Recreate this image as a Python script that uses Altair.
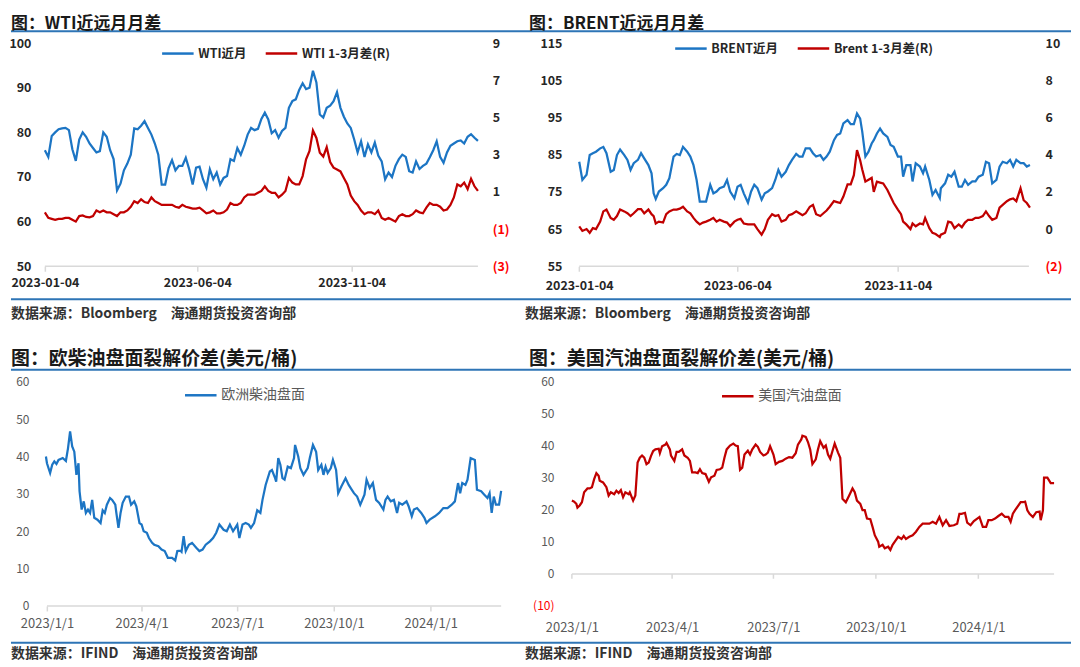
import altair as alt
import pandas as pd

FONT = "Noto Sans CJK SC"
BLUE = "#1C75C4"
RED = "#C00000"
RULE_BLUE = "#2E75B6"
DARK = "#262626"
GRAY = "#595959"
AXIS_GRAY = "#D9D9D9"
NEG_RED = "#FF0000"

# ---------------- data: WTI (evenly spaced observations) ----------------
WTI_START, WTI_END = "2023-01-04", "2024-03-08"
WTI_NEAR = [76, 74.5, 79.2, 80, 80.7, 80.9, 81, 80.5, 76.2, 73.6,
            78.4, 80, 79, 77.5, 76.5, 75.5, 75.8, 80, 79, 76,
            74, 67, 68.5, 71.5, 73, 75, 80.9, 80.7, 81.5, 82.5,
            81, 79.5, 77.5, 75, 68.3, 68.3, 72, 73.8, 71.5, 72.5,
            72.5, 74.3, 71.7, 68.3, 72.1, 72.3, 69.5, 67.6, 71.7, 69.5,
            71, 68.3, 69.8, 70.2, 74, 73.6, 76.5, 75, 77, 79.5,
            81, 80.5, 80.8, 83, 84.4, 82.9, 79.8, 80.5, 78.8, 80.3,
            81, 85.5, 87, 87.4, 89.5, 91, 89.7, 90, 93.8, 91.2,
            84, 83.3, 85.5, 86, 87, 89, 85.5, 83.5, 82, 81,
            78.4, 75.5, 78, 74.5, 77.3, 75.5, 77.7, 74.8, 73.5, 69.5,
            71, 70, 72.5, 74, 75, 74.5, 71.3, 71, 73.5, 71.8,
            72.5, 73, 74.4, 76, 78, 74.5, 73.2, 75.5, 77, 77.5,
            78, 78.2, 77.5, 79, 79.6, 78.8, 78.1]
WTI_SPREAD = [-0.1, -0.4, -0.45, -0.5, -0.45, -0.45, -0.4, -0.4, -0.5, -0.6,
              -0.3, -0.27, -0.35, -0.37, -0.3, 0, -0.1, 0, -0.1, -0.1,
              -0.2, -0.3, -0.1, -0.1, 0, 0.2, 0.5, 0.4, 0.6, 0.45,
              0.4, 0.7, 0.5, 0.4, 0.3, 0.3, 0.3, 0.3, 0.2, 0.15,
              0.3, 0.2, 0.15, 0.1, 0.1, 0.15, 0, -0.15, -0.1, 0,
              -0.15, -0.15, -0.1, 0.05, 0.4, 0.3, 0.3, 0.4, 0.7, 0.85,
              0.85, 0.85, 0.95, 1.05, 1.3, 1.05, 0.95, 0.95, 0.7, 0.85,
              1.05, 1.75, 1.5, 1.4, 1.4, 1.85, 2.75, 3.2, 4.3, 3.9,
              3.1, 2.9, 3.4, 2.6, 2.3, 2.2, 2.1, 1.75, 1.4, 0.8,
              0.5, 0.3, 0, -0.2, -0.1, -0.1, -0.2, 0, -0.4, -0.5,
              -0.4, -0.5, -0.6, -0.3, -0.2, -0.3, -0.3, -0.2, 0, -0.1,
              -0.15, 0.15, 0.4, 0.3, 0.3, 0.2, 0, 0.05, 0.3, 0.7,
              1.4, 1.3, 1.5, 1.15, 1.7, 1.3, 1.05]

# ---------------- data: Brent (days after 2023-01-04) ----------------
BRENT_START = "2023-01-04"
BRENT_DAYS = [0, 3, 7, 10, 13, 16, 20, 23, 26, 30,
              33, 36, 39, 43, 46, 49, 52, 56, 59, 62,
              66, 69, 71, 73, 76, 80, 83, 86, 90, 93,
              96, 99, 103, 106, 109, 112, 115, 118, 121, 125,
              128, 131, 134, 138, 141, 144, 148, 151, 154, 157,
              161, 164, 167, 170, 174, 177, 180, 184, 187, 190,
              193, 197, 200, 203, 207, 210, 213, 216, 220, 223,
              226, 230, 233, 236, 239, 243, 246, 249, 252, 256,
              259, 262, 265, 268, 270, 273, 276, 279, 281, 284,
              287, 290, 294, 297, 300, 304, 307, 309, 312, 316,
              318, 321, 325, 328, 330, 334, 337, 340, 344, 345,
              349, 352, 355, 358, 362, 365, 368, 371, 375, 378,
              381, 385, 388, 391, 394, 398, 401, 404, 408, 411,
              414, 417, 421, 424, 427, 430]
BRENT_NEAR = [83.1, 78.2, 79.6, 84.9, 85.4, 85.8, 86.7, 87.1, 85.4, 80.4,
              80.9, 84.9, 86.4, 84.9, 83.6, 80.9, 82.7, 83.6, 85.4, 84,
              82.2, 80, 74.6, 73.1, 75.1, 76, 76.9, 78.7, 84.5, 85.2,
              84.9, 87.1, 85.8, 84.5, 82.2, 78.2, 72.4, 72.4, 72.4, 76.9,
              74.6, 75.1, 76, 76.4, 78.2, 75.1, 73.3, 76.4, 76.9, 74.6,
              72.1, 75.1, 76.9, 76, 72.9, 74.6, 75.1, 76, 78.2, 80.9,
              79.1, 80.4, 82.2, 83.6, 85.2, 84.5, 84.5, 86.7, 86.7, 85.4,
              84.5, 84.9, 83.6, 84.5, 85.8, 88.9, 90.3, 90.7, 93.4, 94.3,
              93.2, 93.2, 96.1, 94.7, 91.2, 84.5, 85.8, 88, 88.9, 90.7,
              92, 90.7, 89.8, 87.6, 87.1, 84.5, 84.5, 79.1, 82.2, 82.2,
              77.8, 82.7, 81.8, 80, 81.8, 78.2, 74.2, 75.5, 73.3, 76,
              77.3, 79.6, 79.1, 80.4, 76.4, 76.4, 78.2, 76.9, 77.8, 77.8,
              79.1, 79.6, 83.1, 82.7, 77.3, 78.2, 81.8, 83.1, 82.7, 83.6,
              81.8, 83.6, 82.7, 82.7, 81.8, 82.2]
BRENT_SPREAD = [0.14, -0.1, 0, -0.2, 0.05, 0, 0.4, 0.95, 1.05, 0.6,
                0.5, 0.7, 1.05, 0.95, 0.85, 0.7, 0.85, 1.07, 1.07, 0.85,
                1.05, 0.8, 0.7, 0.3, 0.4, 0.35, 0.8, 0.95, 1.05, 1.05,
                1.1, 1.2, 0.95, 0.85, 0.6, 0.4, 0.25, 0.35, 0.4, 0.5,
                0.6, 0.4, 0.5, 0.4, 0.35, 0.15, 0.4, 0.5, 0.55, 0.3,
                0.25, 0.25, 0.25, 0, -0.3, 0, 0.5, 0.8, 0.7, 0.75,
                0.4, 0.5, 0.75, 0.8, 0.95, 0.85, 0.75, 0.85, 1.2, 1.3,
                0.8, 0.7, 0.85, 1.0, 1.2, 1.5, 1.45, 1.4, 1.75, 2.4,
                2.4, 2.9, 4.25, 3.7, 3.2, 2.55, 2.65, 2.75, 2.0, 2.55,
                2.5, 2.45, 2.1, 1.75, 1.4, 1.05, 0.8, 0.4, 0.25, 0,
                0.3, 0.15, 0.3, 0.25, 0.6, 0.05, -0.2, -0.27, -0.43, -0.3,
                -0.2, 0.4, 0.35, 0.05, 0.25, 0.1, 0.35, 0.5, 0.5, 0.6,
                0.6, 0.7, 0.95, 0.7, 0.5, 0.6, 1.15, 1.3, 1.5, 1.6,
                1.65, 1.5, 2.2, 1.55, 1.4, 1.15]

# ---------------- data: cracks (days after 2023-01-01) ----------------
CRACK_START = "2023-01-01"
DIESEL_DAYS = [-1, 0, 3, 5, 7, 9, 11, 15, 18, 20,
               22, 24, 26, 28, 30, 31, 33, 35, 37, 39,
               41, 43, 45, 48, 51, 53, 55, 57, 60, 62,
               65, 66, 68, 70, 72, 75, 78, 80, 83, 85,
               88, 90, 92, 95, 97, 100, 102, 106, 109, 112,
               115, 119, 122, 124, 127, 128, 130, 132, 135, 138,
               142, 145, 148, 151, 155, 158, 161, 164, 168, 171,
               174, 177, 181, 183, 186, 189, 192, 194, 197, 200,
               203, 205, 208, 212, 214, 217, 218, 220, 222, 224,
               226, 229, 232, 235, 236, 239, 241, 244, 248, 250,
               253, 256, 258, 261, 263, 265, 267, 270, 272, 275,
               277, 280, 284, 287, 290, 292, 295, 298, 302, 304,
               307, 310, 313, 316, 320, 322, 324, 327, 330, 333,
               335, 338, 342, 344, 347, 349, 352, 356, 359, 361,
               364, 369, 373, 377, 381, 385, 388, 391, 393, 395,
               398, 400, 403, 407, 409, 413, 416, 419, 421, 423,
               425, 427, 430, 432]
DIESEL_CRACK = [40, 38.2, 35.6, 37.8, 38.7, 38, 39.1, 39.6, 38.8, 42.2,
                46.7, 42.7, 41.3, 35.1, 38.2, 30.7, 25.8, 28, 24.9, 25.8,
                24.9, 28.4, 23.6, 23.1, 22.2, 25.6, 24.9, 27.1, 28.9, 28.4,
                27.1, 24.9, 20.9, 24.9, 27.6, 29.3, 29.3, 27.1, 28, 26.7,
                22.2, 21.8, 20, 19.6, 18.2, 16.9, 16.4, 16, 15.1, 14.7,
                12.9, 12.9, 12.2, 14.7, 14.8, 14.5, 18.7, 14.7, 16.4, 16.9,
                15.6, 14.7, 15.1, 16.4, 17.3, 18.2, 19.6, 21.8, 20.4, 20,
                21.8, 20, 21.8, 18.2, 21.8, 22.2, 21.8, 20.9, 22.2, 25.6,
                24.9, 28.4, 32.4, 36, 36.4, 34.2, 33.3, 39.6, 37.8, 34.2,
                33.8, 37.3, 36.9, 39.6, 43.1, 40, 36.9, 35.1, 36.9, 39.6,
                43.1, 41.3, 36.4, 37.8, 35.1, 37.3, 35.6, 36.9, 39.1, 36.4,
                30.2, 32, 34.2, 32.4, 31.1, 30.2, 29.3, 27.1, 29.8, 33.8,
                31.6, 32.9, 28.4, 27.6, 25.8, 28.4, 29.3, 28, 28.4, 24.9,
                27.6, 27.1, 28, 26.7, 24, 25.8, 26.2, 24.9, 23.6, 22.2,
                23.1, 24, 24.9, 26.2, 26.2, 27.1, 28, 32.9, 30.2, 32.9,
                32.4, 33.8, 39.6, 39.1, 31.1, 30.7, 29.8, 28.9, 30.2, 24.9,
                29.3, 27.1, 27.1, 30.8]
GASOLINE_DAYS = [0, 2, 4, 5, 7, 9, 11, 14, 16, 18,
                 20, 22, 24, 25, 28, 31, 33, 35, 38, 40,
                 42, 44, 46, 48, 51, 52, 55, 57, 59, 61,
                 63, 65, 67, 69, 71, 73, 75, 78, 79, 81,
                 84, 85, 88, 89, 92, 94, 96, 99, 101, 104,
                 106, 108, 111, 113, 115, 117, 120, 123, 125, 128,
                 130, 133, 135, 137, 139, 142, 145, 147, 149, 151,
                 153, 155, 158, 160, 162, 165, 167, 169, 172, 174,
                 176, 178, 181, 183, 186, 189, 192, 195, 198, 201,
                 203, 206, 207, 210, 212, 214, 216, 219, 221, 223,
                 226, 228, 230, 232, 234, 236, 239, 241, 243, 246,
                 249, 252, 254, 256, 259, 261, 263, 265, 268, 270,
                 272, 275, 276, 279, 281, 284, 286, 288, 290, 293,
                 296, 298, 300, 303, 306, 309, 312, 315, 318, 321,
                 324, 327, 330, 333, 336, 339, 343, 346, 348, 350,
                 353, 355, 358, 361, 364, 366, 369, 372, 374, 377,
                 380, 383, 386, 389, 392, 394, 396, 398, 401, 403,
                 405, 407, 409, 411, 414, 417, 420, 421, 423, 424,
                 427, 430, 433]
GASOLINE_CRACK = [22.9, 22.6, 21.9, 20.7, 21.4, 22.4, 25.5, 26.7, 26.7, 27.1,
                  29.6, 31.5, 30.7, 29.1, 28.6, 27.1, 24.5, 25.5, 24.9, 26,
                  25.3, 26.2, 24, 25.5, 24.9, 25.5, 22.9, 24.5, 34.8, 36.3,
                  37, 36.3, 34.3, 34.8, 36.8, 38.4, 38.9, 39.1, 37.7, 39.9,
                  40.4, 40.9, 38.9, 37, 35.3, 38.1, 38.1, 38.9, 37, 36.3,
                  35.3, 31.7, 31.7, 31.5, 32.7, 31.5, 31.2, 28.8, 30.2, 30.7,
                  32.5, 32.7, 33.2, 36.3, 38.9, 40.1, 40.7, 40.1, 39.9, 32.5,
                  33.2, 37.3, 38.5, 37.3, 38.9, 40.4, 39.7, 38.1, 37, 37.3,
                  37.9, 39.9, 37.3, 34.3, 35, 35.3, 36, 36.5, 36.3, 37.7,
                  40.4, 42, 43.2, 42.8, 41.2, 38.9, 34.3, 35.8, 38.9, 41.5,
                  39.4, 40.1, 37.3, 36, 38.4, 40.7, 37.9, 36.3, 23.5, 22.4,
                  24.5, 26.7, 25.5, 22.9, 21.9, 19.9, 19.9, 17.3, 17.1, 14.7,
                  12.1, 10.1, 8.5, 9.1, 8, 8.5, 7.5, 9.1, 10.1, 11.6,
                  10.9, 11.9, 10.9, 11.6, 12.1, 13.2, 14.7, 15.7, 15.7, 15.7,
                  16.3, 15.7, 17.8, 15.2, 16.8, 15, 15.2, 15.7, 18.8, 18.8,
                  19.1, 16, 15.2, 16.5, 17.3, 17.8, 14.7, 14.7, 16.8, 16.8,
                  17.3, 18.1, 18.8, 17.8, 17.8, 16.3, 18.8, 19.9, 21.4, 22.4,
                  22.4, 22.6, 19.9, 18.8, 17.8, 19.3, 19.5, 16.8, 19.9, 30.1,
                  30.1, 28.4, 28.4]

# ---------------- text ----------------
TITLES = ["图：WTI近远月月差", "图：BRENT近远月月差",
          "图：欧柴油盘面裂解价差(美元/桶)", "图：美国汽油盘面裂解价差(美元/桶)"]
SOURCES = ["数据来源：Bloomberg\u3000海通期货投资咨询部",
           "数据来源：Bloomberg\u3000海通期货投资咨询部",
           "数据来源：IFIND\u3000海通期货投资咨询部",
           "数据来源：IFIND\u3000海通期货投资咨询部"]
SERIES = [["WTI近月", "WTI 1-3月差(R)"], ["BRENT近月", "Brent 1-3月差(R)"],
          ["欧洲柴油盘面"], ["美国汽油盘面"]]

# ---------------- layout ----------------
C1X, C2X = 42, 571
R1Y, R2Y = 41, 381
W1, W2 = 458, 484
H1, H2 = 224, 225


def dt(y, m, d):
    return alt.DateTime(year=y, month=m, date=d)


def ts(s):
    return pd.Timestamp(s)


def decorations(i, cx, ry, rule_top, rule_bot, rx0, rx1, title_x, title_y, title_size,
                src_x, src_y, anchor_top=False):
    one = pd.DataFrame({"t": [TITLES[i]]})
    src = pd.DataFrame({"t": [SOURCES[i]]})
    dummy = pd.DataFrame({"k": [0]})
    out = [
        alt.Chart(dummy).mark_rule(color=RULE_BLUE, strokeWidth=2).encode(
            x=alt.value(rx0 - cx), x2=alt.value(rx1 - cx), y=alt.value(rule_top - ry)),
        alt.Chart(dummy).mark_rule(color=RULE_BLUE, strokeWidth=2).encode(
            x=alt.value(rx0 - cx), x2=alt.value(rx1 - cx), y=alt.value(rule_bot - ry)),
        alt.Chart(one).mark_text(align="left", baseline="middle", font=FONT, fontSize=title_size,
                                 fontWeight="bold", color="#1A1A1A").encode(
            text="t:N", x=alt.value(title_x - cx), y=alt.value(title_y - ry)),
        alt.Chart(src).mark_text(align="left", baseline="middle", font=FONT, fontSize=14,
                                 fontWeight="bold", color="#333333").encode(
            text="t:N", x=alt.value(src_x - cx), y=alt.value(src_y - ry)),
    ]
    if anchor_top:
        # invisible frame edge at the top of the page area
        out.append(alt.Chart(dummy).mark_rule(opacity=0, strokeWidth=1).encode(
            x=alt.value(rx0 - cx), x2=alt.value(rx1 - cx), y=alt.value(7.5 - ry)))
    return out


def yaxis(values, orient, size, bold, color, padding, offset=0, neg_red=False):
    kw = dict(values=values, tickCount=len(values) + 2, orient=orient, title=None,
              domain=False, ticks=False, grid=False, labelFont=FONT, labelFontSize=size,
              labelFontWeight="bold" if bold else "normal", labelPadding=padding,
              labelOverlap=False)
    if offset:
        kw["offset"] = offset
    if neg_red:
        kw["labelExpr"] = "datum.value < 0 ? '(' + abs(datum.value) + ')' : datum.label"
        kw["labelColor"] = {"condition": {"test": "datum.value < 0", "value": NEG_RED},
                            "value": color}
    else:
        kw["labelColor"] = color
    return alt.Axis(**kw)


def xaxis(values, fmt, size, bold, color, padding, ticks=True):
    return alt.Axis(values=values, format=fmt, formatType="time", title=None,
                    domain=False, ticks=ticks, tickSize=5 if ticks else 0,
                    tickColor=AXIS_GRAY, tickWidth=1.5, grid=False, labelFont=FONT,
                    labelFontSize=size, labelFontWeight="bold" if bold else "normal",
                    labelColor=color, labelPadding=padding, labelFlush=False,
                    labelOverlap=False, labelAngle=0)


def legend(x, y, size, bold, color, colpad):
    return alt.Legend(title=None, orient="none", legendX=x, legendY=y,
                      direction="horizontal", symbolType="stroke", symbolSize=1000,
                      symbolStrokeWidth=2.5, labelFont=FONT, labelFontSize=size,
                      labelFontWeight="bold" if bold else "normal", labelColor=color,
                      columnPadding=colpad, labelOffset=3, padding=0)


def dual_panel(i, near_df, spread_df, xdomain, ydom_l, yvals_l, ydom_r, yvals_r,
               xvals, axis_span, y_floor, cx, ry, w, h, lpad, roff, xpad,
               leg_x, leg_y, leg_pad, title_x, src_x):
    xs = alt.Scale(domain=xdomain)
    ax = xaxis(xvals, "%Y-%m-%d", 12.5, True, DARK, xpad)
    col = alt.Color("series:N", scale=alt.Scale(domain=SERIES[i], range=[BLUE, RED]),
                    legend=legend(leg_x, leg_y, 12.5, True, DARK, leg_pad))
    ysl = alt.Scale(domain=ydom_l, nice=False, zero=False)
    ysr = alt.Scale(domain=ydom_r, nice=False, zero=False)
    near = alt.Chart(near_df).mark_line(strokeWidth=2.25).encode(
        x=alt.X("date:T", scale=xs, axis=ax),
        y=alt.Y("v:Q", scale=ysl, axis=yaxis(yvals_l, "left", 12.5, True, DARK, lpad)),
        color=col)
    base_df = pd.DataFrame({"s": [ts(axis_span[0])], "e": [ts(axis_span[1])]})
    base = alt.Chart(base_df).mark_rule(color=AXIS_GRAY, strokeWidth=1.5).encode(
        x=alt.X("s:T", scale=xs, axis=ax), x2="e:T",
        y=alt.Y(datum=y_floor, scale=ysl,
                axis=yaxis(yvals_l, "left", 12.5, True, DARK, lpad)))
    spread = alt.Chart(spread_df).mark_line(strokeWidth=2.25).encode(
        x=alt.X("date:T", scale=xs, axis=ax),
        y=alt.Y("v:Q", scale=ysr,
                axis=yaxis(yvals_r, "right", 12.5, True, DARK, 0, offset=roff, neg_red=True)),
        color=col)
    decos = decorations(i, cx, ry, 29, 298, 8 if cx == C1X else 540,
                        540 if cx == C1X else 1072, title_x, 21.5, 17, src_x, 313,
                        anchor_top=True)
    left = alt.layer(near, base, *decos)
    return alt.layer(left, spread).resolve_scale(y="independent").properties(width=w, height=h)


def single_panel(i, df, color, xdomain, ydom, yvals, neg_red, xvals, axis_span,
                 cx, ry, w, h, lpad, xpad, ticks_on_axis, leg_x, leg_y, title_x, src_x):
    xs = alt.Scale(domain=xdomain)
    ax = xaxis(xvals, "%Y/%-m/%-d", 13, False, GRAY, xpad, ticks=ticks_on_axis)
    col = alt.Color("series:N", scale=alt.Scale(domain=SERIES[i], range=[color]),
                    legend=legend(leg_x, leg_y, 14, False, GRAY, 14))
    ys = alt.Scale(domain=ydom, nice=False, zero=False)
    yax = yaxis(yvals, "left", 12, False, GRAY, lpad, neg_red=neg_red)
    line = alt.Chart(df).mark_line(strokeWidth=2.25).encode(
        x=alt.X("date:T", scale=xs, axis=ax),
        y=alt.Y("v:Q", scale=ys, axis=yax),
        color=col)
    base_df = pd.DataFrame({"s": [ts(axis_span[0])], "e": [ts(axis_span[1])]})
    base = alt.Chart(base_df).mark_rule(color=AXIS_GRAY, strokeWidth=1.5).encode(
        x=alt.X("s:T", scale=xs, axis=ax), x2="e:T",
        y=alt.Y(datum=0, scale=ys, axis=yax))
    layers = [line, base]
    if not ticks_on_axis:
        tick_df = pd.DataFrame({"d": [ts("2023-01-01"), ts("2023-04-01"), ts("2023-07-01"),
                                      ts("2023-10-01"), ts("2024-01-01")]})
        layers.append(alt.Chart(tick_df).mark_rule(color=AXIS_GRAY, strokeWidth=1.5).encode(
            x=alt.X("d:T", scale=xs, axis=ax),
            y=alt.Y(datum=0, scale=ys, axis=yax), y2=alt.datum(-1.5)))
    decos = decorations(i, cx, ry, 369, 643, 8 if cx == C1X else 540,
                        540 if cx == C1X else 1072, title_x, 358, 19, src_x, 654)
    return alt.layer(*layers, *decos).properties(width=w, height=h)


# ---------------- frames ----------------
wti_dates = pd.date_range(WTI_START, WTI_END, periods=len(WTI_NEAR))
wti_near_df = pd.DataFrame({"date": wti_dates, "v": WTI_NEAR, "series": SERIES[0][0]})
wti_spr_df = pd.DataFrame({"date": wti_dates, "v": WTI_SPREAD, "series": SERIES[0][1]})

brent_dates = pd.Timestamp(BRENT_START) + pd.to_timedelta(BRENT_DAYS, unit="D")
brent_near_df = pd.DataFrame({"date": brent_dates, "v": BRENT_NEAR, "series": SERIES[1][0]})
brent_spr_df = pd.DataFrame({"date": brent_dates, "v": BRENT_SPREAD, "series": SERIES[1][1]})

diesel_df = pd.DataFrame({"date": pd.Timestamp(CRACK_START) + pd.to_timedelta(DIESEL_DAYS, unit="D"),
                          "v": DIESEL_CRACK, "series": SERIES[2][0]})
gas_df = pd.DataFrame({"date": pd.Timestamp(CRACK_START) + pd.to_timedelta(GASOLINE_DAYS, unit="D"),
                       "v": GASOLINE_CRACK, "series": SERIES[3][0]})

top_ticks = [dt(2023, 1, 4), dt(2023, 6, 4), dt(2023, 11, 4)]
bot_ticks = [dt(2023, 1, 1), dt(2023, 4, 1), dt(2023, 7, 1), dt(2023, 10, 1), dt(2024, 1, 1)]

tl = dual_panel(0, wti_near_df, wti_spr_df, [dt(2023, 1, 4), dt(2024, 3, 31)],
                [50, 100], [50, 60, 70, 80, 90, 100], [-3, 9], [-3, -1, 1, 3, 5, 7, 9],
                top_ticks, (WTI_START, WTI_END), 50, C1X, R1Y, W1, H1,
                lpad=14, roff=-9, xpad=5, leg_x=116, leg_y=-7, leg_pad=13,
                title_x=8, src_x=8)
tr = dual_panel(1, brent_near_df, brent_spr_df, [dt(2022, 12, 28), dt(2024, 4, 1)],
                [55, 115], [55, 65, 75, 85, 95, 105, 115], [-2, 10], [-2, 0, 2, 4, 6, 8, 10],
                top_ticks, (BRENT_START, "2024-03-08"), 55, C2X, R1Y, W2, H1,
                lpad=10, roff=-9, xpad=8, leg_x=102, leg_y=-12, leg_pad=14,
                title_x=528, src_x=524)
bl = single_panel(2, diesel_df, BLUE, [dt(2022, 12, 30), dt(2024, 3, 8)],
                  [0, 60], [0, 10, 20, 30, 40, 50, 60], False, bot_ticks,
                  ("2023-01-01", "2024-03-08"), C1X, R2Y, W1, H2, lpad=16, xpad=7,
                  ticks_on_axis=True, leg_x=139, leg_y=-4, title_x=8, src_x=8)
br = single_panel(3, gas_df, RED, [dt(2023, 1, 1), dt(2024, 3, 9)],
                  [-10, 60], [-10, 0, 10, 20, 30, 40, 50, 60], True, bot_ticks,
                  ("2023-01-01", "2024-03-09"), C2X, R2Y, W2, H2, lpad=18, xpad=16,
                  ticks_on_axis=False, leg_x=149, leg_y=-3, title_x=528, src_x=524)

chart = alt.concat(tl, tr, bl, br, columns=2,
                   spacing={"row": R2Y - (R1Y + H1), "column": C2X - (C1X + W1)},
                   bounds="flush", padding=0).resolve_scale(
    color="independent").resolve_legend(color="independent").configure_view(stroke=None)

chart.save("out.html", embed_options={"renderer": "svg", "actions": False})
